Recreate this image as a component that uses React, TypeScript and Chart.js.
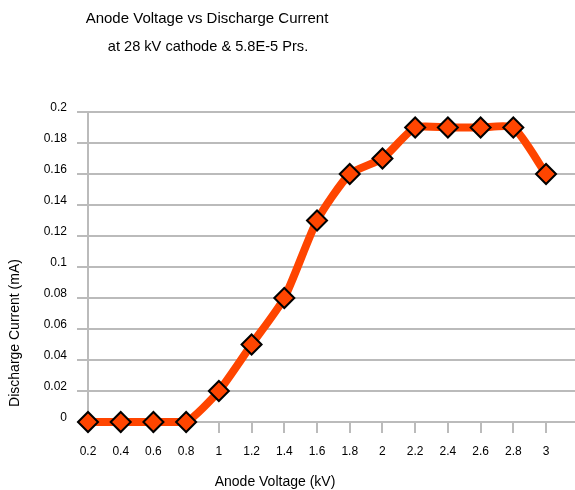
import React, { useEffect, useRef } from "react";
import { Chart, registerables } from "chart.js";

Chart.register(...registerables);

const titleLines = ["Anode Voltage vs Discharge Current", "at 28 kV cathode & 5.8E-5 Prs."];
const xAxisTitle = "Anode Voltage (kV)";
const yAxisTitle = "Discharge Current (mA)";

const anodeVoltage = ["0.2", "0.4", "0.6", "0.8", "1", "1.2", "1.4", "1.6", "1.8", "2", "2.2", "2.4", "2.6", "2.8", "3"];
const dischargeCurrent = [0, 0, 0, 0, 0.02, 0.05, 0.08, 0.13, 0.16, 0.17, 0.19, 0.19, 0.19, 0.19, 0.16];
const yTickLabels = ["0", "0.02", "0.04", "0.06", "0.08", "0.1", "0.12", "0.14", "0.16", "0.18", "0.2"];

const xMin = 0.2;
const xMax = 3.177;

const FONT = "'Liberation Sans', Arial, sans-serif";
const GRID = "#bbbbbb";

const textPlugin = {
  id: "fixedTexts",
  afterDraw(chart: any) {
    const ctx = chart.ctx;
    ctx.save();
    ctx.fillStyle = "#000";
    ctx.textAlign = "center";
    ctx.textBaseline = "middle";
    ctx.font = `15px ${FONT}`;
    ctx.fillText(titleLines[0], 207, 19);
    ctx.font = `14.6px ${FONT}`;
    ctx.fillText(titleLines[1], 208, 47);
    ctx.font = `14px ${FONT}`;
    ctx.fillText(xAxisTitle, 275, 482);
    ctx.translate(15, 333);
    ctx.rotate(-Math.PI / 2);
    ctx.fillText(yAxisTitle, 0, 0);
    ctx.restore();
  },
};

export default function App() {
  const ref = useRef<HTMLCanvasElement>(null);
  useEffect(() => {
    if (!ref.current) return;
    const chart = new Chart(ref.current, {
      type: "line",
      data: {
        datasets: [
          {
            data: anodeVoltage.map((v, i) => ({ x: Number(v), y: dischargeCurrent[i] })),
            borderColor: "#FF4500",
            borderWidth: 8,
            tension: 0.2,
            pointStyle: "rectRot",
            pointRadius: 10,
            pointHoverRadius: 10,
            pointBackgroundColor: "#FF4500",
            pointBorderColor: "#000",
            pointBorderWidth: 2,
            clip: false as any,
          },
        ],
      },
      options: {
        responsive: false,
        animation: false,
        devicePixelRatio: 1,
        layout: { autoPadding: false, padding: { top: 112, left: 0, right: 0, bottom: 0 } },
        plugins: { legend: { display: false }, tooltip: { enabled: false }, title: { display: false } },
        scales: {
          x: {
            type: "linear",
            min: xMin,
            max: xMax,
            ticks: {
              color: "#000",
              font: { family: FONT, size: 12 },
              padding: 11,
              maxRotation: 0,
              autoSkip: false,
              callback: (_v: any, i: number) => anodeVoltage[i],
            },
            afterBuildTicks: (s: any) => {
              s.ticks = anodeVoltage.map((v) => ({ value: Number(v) }));
            },
            afterFit: (s: any) => {
              s.height = 68;
              s.paddingLeft = 0;
              s.paddingRight = 0;
            },
            grid: { drawOnChartArea: false, drawTicks: true, tickLength: 11, color: GRID, lineWidth: 2 },
            border: { display: true, color: GRID, width: 2 },
          },
          y: {
            min: Number(yTickLabels[0]),
            max: Number(yTickLabels[yTickLabels.length - 1]),
            ticks: {
              color: "#000",
              font: { family: FONT, size: 12 },
              padding: 10,
              labelOffset: -4,
              autoSkip: false,
              callback: (_v: any, i: number) => yTickLabels[i],
            },
            afterBuildTicks: (s: any) => {
              s.ticks = yTickLabels.map((v) => ({ value: Number(v) }));
            },
            afterFit: (s: any) => {
              s.width = 88;
              s.paddingTop = 0;
              s.paddingBottom = 0;
            },
            grid: { drawTicks: true, tickLength: 11, color: GRID, lineWidth: 2 },
            border: { display: true, color: GRID, width: 2 },
          },
        },
      },
      plugins: [textPlugin],
    });
    return () => chart.destroy();
  }, []);
  return (
    <div style={{ position: "absolute", left: 0, top: 0, width: 575, height: 490, background: "#fff" }}>
      <canvas ref={ref} width={575} height={490} style={{ width: 575, height: 490 }} />
    </div>
  );
}
